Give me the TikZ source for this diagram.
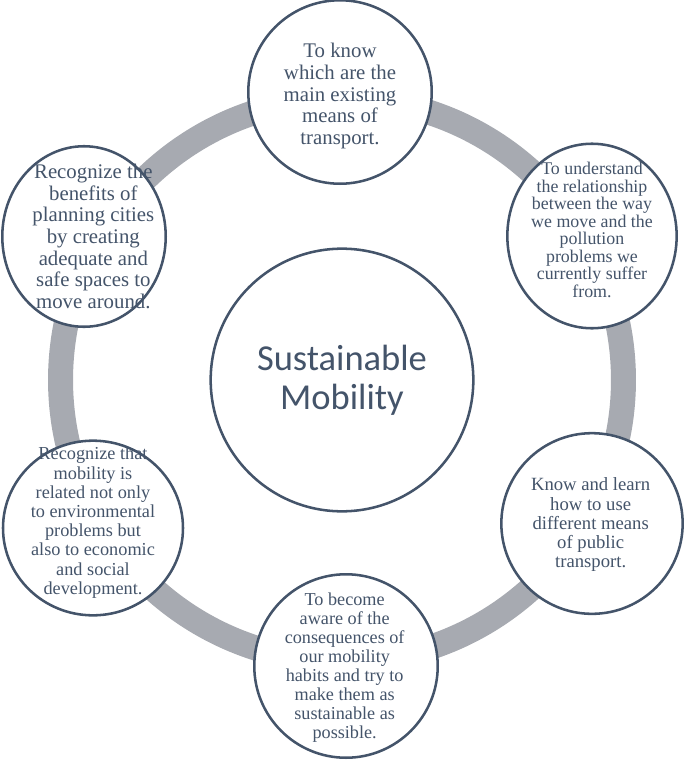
\documentclass[tikz,border=0pt]{standalone}
\usepackage{fontspec}
\setmainfont{Liberation Serif}
\newfontfamily\hubfont{Carlito}
\usepackage{xcolor}
\usepackage{tikz}
\usetikzlibrary{shapes.geometric}
\definecolor{slate}{HTML}{44546A}
\definecolor{ringgray}{HTML}{A7AAB1}
\tikzset{
  goal/.style={ellipse, draw=slate, line width=1.9pt, fill=white, inner sep=0pt},
  goaltext/.style 2 args={text=slate, align=center, inner sep=0pt,
    font=\fontsize{#1}{#2}\selectfont},
  hub/.style={circle, draw=slate, line width=1.9pt, fill=white, minimum size=197pt,
    inner sep=0pt, text=slate, align=center, font=\hubfont\fontsize{27.4}{29}\selectfont},
  ring/.style={draw=ringgray, line width=18.75pt},
  every picture/.style={line cap=round, line join=round}
}

\begin{document}
\begin{tikzpicture}[x=0.75pt,y=-0.75pt]
  \useasboundingbox (0,0) rectangle (685,761);

  % ring behind the goals
  \coordinate (c) at (342,380);
  \draw[ring] (c) circle[radius=211.1pt];

  % centre
  \node[hub] (mob) at (c) {Sustainable\\Mobility};

  % goals, clockwise from the top
  \node[goal, minimum width=137.6pt, minimum height=137.6pt,
    label={[goaltext={15.6}{16.4}, yshift=-3pt]center:{To know\\which are the\\main existing\\means of\\transport.}}]
    (know) at (340,92) {};
  \node[goal, minimum width=127pt, minimum height=138.4pt,
    label={[goaltext={13.4}{13.1}, yshift=4.5pt]center:{To understand\\the relationship\\between the way\\we move and the\\pollution\\problems we\\currently suffer\\from.}}]
    (pollu) at (592,236) {};
  \node[goal, minimum width=136pt, minimum height=135.5pt,
    label={[goaltext={14}{14.4}, xshift=-1pt, yshift=-1pt]center:{Know and learn\\how to use\\different means\\of public\\transport.}}]
    (public) at (592,523.5) {};
  \node[goal, minimum width=137.6pt, minimum height=137.6pt,
    label={[goaltext={13.65}{14.25}, xshift=-1pt, yshift=-1.5pt]center:{To become\\aware of the\\consequences of\\our mobility\\habits and try to\\make them as\\sustainable as\\possible.}}]
    (habits) at (346,666) {};
  \node[goal, minimum width=135pt, minimum height=131pt,
    label={[goaltext={13.7}{14.4}, yshift=4pt]center:{Recognize that\\mobility is\\related not only\\to environmental\\problems but\\also to economic\\and social\\development.}}]
    (econ) at (93,528) {};
  \node[goal, minimum width=122.6pt, minimum height=135.4pt,
    label={[goaltext={15.6}{16.2}, xshift=7pt]center:{Recognize the\\benefits of\\planning cities\\by creating\\adequate and\\safe spaces to\\move around.}}]
    (cities) at (84,236.5) {};
\end{tikzpicture}
\end{document}
